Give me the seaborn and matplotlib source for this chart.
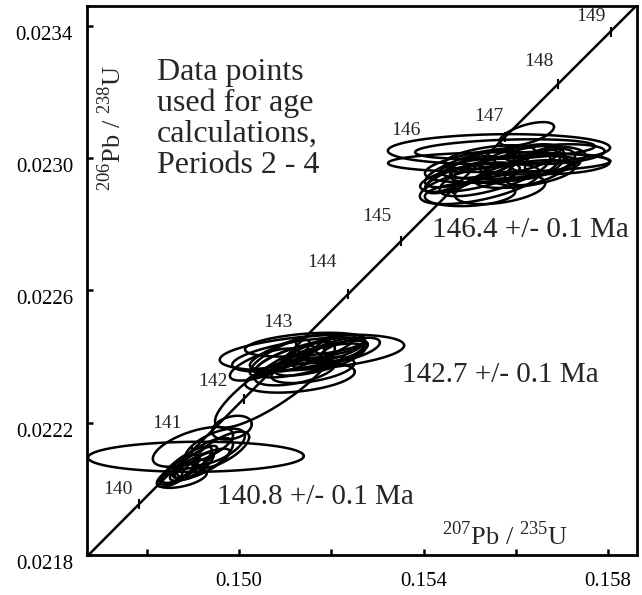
import numpy as np
import pandas as pd
import seaborn as sns
import matplotlib.pyplot as plt
from matplotlib import transforms

# decay constants, 1/yr
L238 = 1.55125e-10
L235 = 9.8485e-10

# concordia age ticks (Ma) and label offsets in pixels from the tick
ages = [140, 141, 142, 143, 144, 145, 146, 147, 148, 149]
label_dx = [-21, -25, -31, -18, -26, -24, -47, -17, -19, -20]
label_dy = [14, 28, 17, 24, 31, 25, 59, 20, 23, 15]

# error ellipses: centre, 2-sigma half widths, error correlation
ell_x = [0.149063, 0.148998, 0.149844, 0.149627, 0.148868, 0.148716, 0.149041, 0.148759, 0.149258, 0.149100,
         0.149150, 0.148607, 0.149475, 0.148933,
         0.151579, 0.151319, 0.151536, 0.151102, 0.151753, 0.151319, 0.150560, 0.152078, 0.152187, 0.151319,
         0.150880, 0.150777, 0.151600, 0.151427, 0.151753, 0.150993, 0.151970, 0.151210, 0.152403,
         0.155636, 0.155640, 0.155770, 0.156240, 0.155220, 0.155550, 0.155010, 0.156090, 0.156420, 0.156630,
         0.155330, 0.155870, 0.154790, 0.156850, 0.155660, 0.155007, 0.155874, 0.156525, 0.155440, 0.154681,
         0.156200, 0.156959, 0.155766, 0.155007]
ell_y = [0.022097, 0.022127, 0.022185, 0.022118, 0.022073, 0.022058, 0.022082, 0.022033, 0.022094, 0.022070,
         0.022073, 0.022042, 0.022127, 0.022058,
         0.022412, 0.022406, 0.022397, 0.022415, 0.022421, 0.022336, 0.022376, 0.022421, 0.022436, 0.022391,
         0.022397, 0.022315, 0.022360, 0.022436, 0.022391, 0.022391, 0.022406, 0.022355, 0.022421,
         0.023027, 0.022988, 0.022982, 0.023073, 0.022921, 0.022952, 0.022967, 0.022997, 0.022982, 0.022991,
         0.022982, 0.022967, 0.022952, 0.023012, 0.022906, 0.022942, 0.022973, 0.022973, 0.023003, 0.022936,
         0.022952, 0.022982, 0.023027, 0.022891]
ell_sx = [0.00234, 0.00087, 0.00043, 0.00059, 0.00054, 0.00043, 0.00048, 0.00054, 0.00061, 0.00035,
          0.00065, 0.00039, 0.00065, 0.00033,
          0.00200, 0.00147, 0.00119, 0.00087, 0.00076, 0.00119, 0.00076, 0.00065, 0.00054, 0.00054,
          0.00065, 0.00130, 0.00090, 0.00130, 0.00098, 0.00065, 0.00082, 0.00087, 0.00065,
          0.00241, 0.00241, 0.00174, 0.00059, 0.00130, 0.00120, 0.00098, 0.00087, 0.00054, 0.00043,
          0.00076, 0.00130, 0.00076, 0.00108, 0.00098, 0.00108, 0.00152, 0.00076, 0.00098, 0.00065,
          0.00108, 0.00108, 0.00195, 0.00098]
ell_sy = [0.0000455, 0.000060, 0.000036, 0.000055, 0.000055, 0.000045, 0.000048, 0.000030, 0.000060, 0.000040,
          0.0000485, 0.000036, 0.000055, 0.000030,
          0.0000545, 0.0000515, 0.000060, 0.0000515, 0.000045, 0.000045, 0.0000485, 0.000036, 0.000030, 0.000036,
          0.000055, 0.000130, 0.000040, 0.000036, 0.0000485, 0.000042, 0.000042, 0.000042, 0.000036,
          0.0000455, 0.000030, 0.000055, 0.000036, 0.000060, 0.000067, 0.000055, 0.000045, 0.000045, 0.000042,
          0.000042, 0.000042, 0.000055, 0.000030, 0.000045, 0.000045, 0.000036, 0.000055, 0.000036, 0.000042,
          0.000042, 0.000030, 0.000030, 0.000036]
ell_rho = [0.05, 0.6, 0.3, 0.7, 0.8, 0.8, 0.85, 0.5, 0.7, 0.8,
           0.8, 0.7, 0.6, 0.7,
           0.4, 0.6, 0.7, 0.8, 0.8, 0.4, 0.7, 0.7, 0.5, 0.8,
           0.8, 0.85, 0.5, 0.4, 0.7, 0.8, 0.7, 0.5, 0.6,
           0.1, 0.1, 0.5, 0.6, 0.6, 0.7, 0.7, 0.6, 0.5, 0.4,
           0.6, 0.5, 0.8, 0.3, 0.4, 0.6, 0.4, 0.6, 0.5, 0.7,
           0.5, 0.2, 0.3, 0.2]

ages_text = ['146.4 +/- 0.1 Ma', '142.7 +/- 0.1 Ma', '140.8 +/- 0.1 Ma']


def concordia(t_ma):
    t = np.asarray(t_ma) * 1e6
    return np.exp(L235 * t) - 1, np.exp(L238 * t) - 1


# ellipse outlines in long form
th = np.linspace(0, 2 * np.pi, 120)
parts = []
for i in range(len(ell_x)):
    r = ell_rho[i]
    parts.append(pd.DataFrame({
        'x': ell_x[i] + ell_sx[i] * np.cos(th),
        'y': ell_y[i] + ell_sy[i] * (r * np.cos(th) + np.sqrt(1 - r * r) * np.sin(th)),
        'id': i,
    }))
ell = pd.concat(parts, ignore_index=True)

cx, cy = concordia(np.linspace(138.5, 150.5, 300))
tx, ty = concordia(ages)

sns.set_theme(style='ticks')
plt.rcParams['font.family'] = ['Liberation Serif', 'DejaVu Serif']
plt.rcParams['mathtext.fontset'] = 'custom'
plt.rcParams['mathtext.rm'] = 'Liberation Serif'

fig = plt.figure(figsize=(6.42, 5.95), dpi=100)
ax = fig.add_axes([0.1355, 0.0672, 0.8567, 0.9227])

sns.lineplot(x=cx, y=cy, color='black', lw=1.8, sort=False, ax=ax)
sns.lineplot(data=ell, x='x', y='y', units='id', estimator=None, sort=False,
             color='black', lw=1.8, ax=ax)
sns.scatterplot(x=tx, y=ty, marker='|', s=50, color='black', linewidth=1.5, ax=ax)

for a, x, y, dx, dy in zip(ages, tx, ty, label_dx, label_dy):
    ax.annotate(str(a), (x, y), xytext=(dx, dy), textcoords='offset pixels',
                ha='center', va='center', fontsize=14)

ax.set_xlim(0.1467, 0.15863)
ax.set_ylim(0.0218, 0.02346)
ax.set_xticks([0.148, 0.150, 0.152, 0.154, 0.156, 0.158])
ax.set_xticklabels(['', '0.150', '', '0.154', '', '0.158'])
ax.set_yticks([0.0218, 0.0222, 0.0226, 0.0230, 0.0234])
ax.set_yticklabels(['0.0218', '0.0222', '0.0226', '0.0230', '0.0234'])
ax.tick_params(direction='in', length=4, width=1.8, labelsize=15, colors='black')
ax.tick_params(axis='x', pad=12)
ax.tick_params(axis='y', pad=10)
for lab in ax.get_yticklabels():
    lab.set_transform(lab.get_transform() + transforms.ScaledTranslation(0, -5 / 72, fig.dpi_scale_trans))
for s in ax.spines.values():
    s.set_linewidth(2.0)
    s.set_color('black')
ax.set_xlabel('')
ax.set_ylabel('')

ax.text(0.76, 0.036, r'$^{207}$Pb / $^{235}$U', transform=ax.transAxes,
        ha='center', va='center', fontsize=19)
ax.text(0.045, 0.778, r'$^{206}$Pb / $^{238}$U', transform=ax.transAxes,
        ha='center', va='center', fontsize=19, rotation=90)
ax.text(0.127, 0.905, 'Data points\nused for age\ncalculations,\nPeriods 2 - 4',
        transform=ax.transAxes, ha='left', va='top', fontsize=23, linespacing=1.08)
ax.text(0.627, 0.592, ages_text[0], transform=ax.transAxes, ha='left', va='center', fontsize=21)
ax.text(0.573, 0.328, ages_text[1], transform=ax.transAxes, ha='left', va='center', fontsize=21)
ax.text(0.236, 0.106, ages_text[2], transform=ax.transAxes, ha='left', va='center', fontsize=21)

fig.savefig('out.png', dpi=100)
